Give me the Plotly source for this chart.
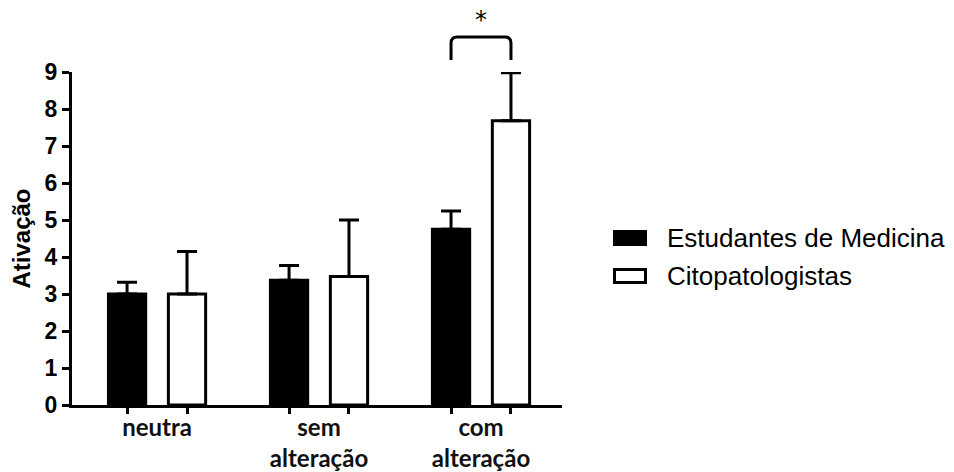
import plotly.graph_objects as go

# Data
categories = ["neutra", "sem<br>alteração", "com<br>alteração"]
series_names = ["Estudantes de Medicina", "Citopatologistas"]
estudantes_mean = [3.0, 3.37, 4.75]
estudantes_err = [0.32, 0.40, 0.49]
cito_mean = [3.0, 3.47, 7.68]
cito_err = [1.15, 1.53, 1.30]
y_ticks = list(range(0, 10))

# Layout constants
BAR_OFFSET = 0.185      # distance from group centre to bar centre (x units)
BAR_WIDTH = 0.23
X_RANGE = [-0.525, 2.5]
Y_RANGE = [0, 9]
ML, MR, MT, MB = 72, 392, 72, 67
W, H = 954, 472
PLOT_W = W - ML - MR
PLOT_H = H - MT - MB

groups = list(range(len(categories)))
x_black = [g - BAR_OFFSET for g in groups]
x_white = [g + BAR_OFFSET for g in groups]


def px_to_paper_x(px):
    return (px - ML) / PLOT_W


def px_to_paper_y(py):
    return (H - MB - py) / PLOT_H


def data_to_paper_x(x):
    return (x - X_RANGE[0]) / (X_RANGE[1] - X_RANGE[0])


fig = go.Figure()

fig.add_trace(go.Bar(
    x=x_black, y=estudantes_mean, width=BAR_WIDTH, name=series_names[0],
    marker=dict(color="black", line=dict(color="black", width=3)),
    error_y=dict(type="data", symmetric=False, array=estudantes_err,
                 arrayminus=[0] * len(estudantes_err),
                 color="black", thickness=3, width=10),
    showlegend=False,
))
fig.add_trace(go.Bar(
    x=x_white, y=cito_mean, width=BAR_WIDTH, name=series_names[1],
    marker=dict(color="white", line=dict(color="black", width=3)),
    error_y=dict(type="data", symmetric=False, array=cito_err,
                 arrayminus=[0] * len(cito_err),
                 color="black", thickness=3, width=10),
    showlegend=False,
))
# invisible trace to carry the tick-mark axis
fig.add_trace(go.Scatter(x=x_black + x_white, y=[0] * 6, xaxis="x2",
                         mode="markers", marker=dict(opacity=0),
                         showlegend=False, hoverinfo="skip"))

fig.update_layout(
    width=W, height=H,
    margin=dict(l=ML, r=MR, t=MT, b=MB, autoexpand=False),
    plot_bgcolor="white", paper_bgcolor="white",
    barmode="overlay",
    xaxis=dict(
        range=X_RANGE, tickmode="array", tickvals=groups, ticktext=categories,
        ticks="", showline=True, linecolor="black", linewidth=3,
        showgrid=False, zeroline=False, automargin=False,
        ticklabelstandoff=-1,
        tickfont=dict(family="Lato", size=24, color="#111111", weight="bold"),
    ),
    xaxis2=dict(
        range=X_RANGE, overlaying="x", anchor="y", side="bottom",
        tickmode="array", tickvals=x_black + x_white,
        ticks="outside", ticklen=8, tickwidth=3, tickcolor="black",
        showticklabels=False, showline=False, showgrid=False, zeroline=False,
        automargin=False,
    ),
    yaxis=dict(
        range=Y_RANGE, tickmode="array", tickvals=y_ticks,
        ticks="outside", ticklen=7, tickwidth=3, tickcolor="black",
        showline=True, linecolor="black", linewidth=3,
        showgrid=False, zeroline=False, automargin=False,
        tickfont=dict(family="Liberation Sans", size=23, color="black", weight="bold"),
        title=dict(text="Ativação", standoff=8,
                   font=dict(family="Liberation Sans", size=24, color="black", weight="bold")),
    ),
)

# Significance bracket over the last group
bx1 = data_to_paper_x(groups[2] - BAR_OFFSET)
bx2 = data_to_paper_x(groups[2] + BAR_OFFSET)
y_low = px_to_paper_y(60)
y_top = px_to_paper_y(37)
dx = 6 / PLOT_W
dy = 6 / PLOT_H
fig.add_shape(
    type="path", xref="paper", yref="paper",
    path=(f"M {bx1},{y_low} L {bx1},{y_top - dy} Q {bx1},{y_top} {bx1 + dx},{y_top} "
          f"L {bx2 - dx},{y_top} Q {bx2},{y_top} {bx2},{y_top - dy} L {bx2},{y_low}"),
    line=dict(color="black", width=3),
)
fig.add_annotation(
    x=(bx1 + bx2) / 2, y=px_to_paper_y(20), xref="paper", yref="paper",
    text="*", showarrow=False, xanchor="center", yanchor="middle",
    font=dict(family="DejaVu Sans", size=24, color="black"),
)

# Legend drawn as swatches + labels
legend_rows = [(238, "black"), (276, "white")]
for (cy, fill), name in zip(legend_rows, series_names):
    fig.add_shape(
        type="rect", xref="paper", yref="paper",
        x0=px_to_paper_x(614.5), x1=px_to_paper_x(645.5),
        y0=px_to_paper_y(cy + 6.5), y1=px_to_paper_y(cy - 6.5),
        line=dict(color="black", width=3), fillcolor=fill,
    )
    fig.add_annotation(
        x=px_to_paper_x(665), y=px_to_paper_y(cy), xref="paper", yref="paper",
        text=name, showarrow=False, xanchor="left", yanchor="middle",
        font=dict(family="Liberation Sans", size=26, color="black"),
    )

fig.write_html("out.html")
